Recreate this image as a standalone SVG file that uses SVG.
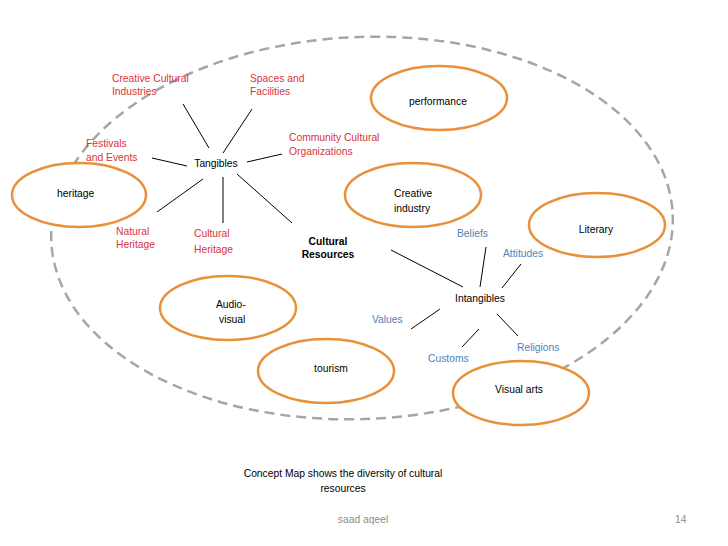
<svg xmlns="http://www.w3.org/2000/svg" width="728" height="546" viewBox="0 0 728 546">
<style>
text{font-family:"Liberation Sans",Arial,sans-serif;font-size:10.3px;fill:#000}
.r{fill:#D9333B}
.b{fill:#4F81BD}
.g{fill:#8C8C8C}
.bold{font-weight:bold}
.m{text-anchor:middle}
.ov{fill:#fff;stroke:#E8913A;stroke-width:2.5}
.ln{stroke:#000;stroke-width:1;fill:none}
</style>
<rect width="728" height="546" fill="#fff"/>
<ellipse cx="362" cy="228" rx="311" ry="191" transform="rotate(-2.5 362 228)" fill="none" stroke="#A6A6A6" stroke-width="2.5" stroke-dasharray="10 6"/>
<g id="connectors">
<line class="ln" x1="183" y1="104" x2="209" y2="148"/>
<line class="ln" x1="252" y1="109" x2="223" y2="153"/>
<line class="ln" x1="282" y1="154" x2="247" y2="162"/>
<line class="ln" x1="152" y1="158" x2="187" y2="166"/>
<line class="ln" x1="203" y1="179" x2="157" y2="212"/>
<line class="ln" x1="223" y1="177" x2="223" y2="223"/>
<line class="ln" x1="237" y1="174" x2="292" y2="223"/>
<line class="ln" x1="391" y1="250" x2="463" y2="287"/>
<line class="ln" x1="486" y1="247" x2="480" y2="287"/>
<line class="ln" x1="521" y1="264" x2="502" y2="288"/>
<line class="ln" x1="440" y1="309" x2="411" y2="329"/>
<line class="ln" x1="479" y1="329" x2="462" y2="347"/>
<line class="ln" x1="497" y1="314" x2="518" y2="336"/>
</g>
<g id="performance"><ellipse class="ov" cx="439" cy="98" rx="68" ry="32"/><text class="m" x="438" y="105">performance</text></g>
<g id="creative-industry"><ellipse class="ov" cx="413" cy="195" rx="68" ry="32"/><text x="394" y="197">Creative</text><text x="394" y="212">industry</text></g>
<g id="literary"><ellipse class="ov" cx="597" cy="225" rx="68" ry="32"/><text class="m" x="596" y="233">Literary</text></g>
<g id="heritage"><ellipse class="ov" cx="79" cy="195" rx="67" ry="32"/><text x="57" y="197">heritage</text></g>
<g id="audio-visual"><ellipse class="ov" cx="228" cy="308" rx="68" ry="32"/><text x="216" y="308">Audio-</text><text x="219" y="323">visual</text></g>
<g id="tourism"><ellipse class="ov" cx="326" cy="371" rx="68" ry="32"/><text class="m" x="331" y="372">tourism</text></g>
<g id="visual-arts"><ellipse class="ov" cx="521" cy="393" rx="68" ry="32"/><text class="m" x="519" y="393">Visual arts</text></g>
<g id="tangibles"><text class="m" x="216" y="167">Tangibles</text></g>
<g id="cultural-resources"><text class="m bold" x="328" y="245">Cultural</text><text class="m bold" x="328" y="258">Resources</text></g>
<g id="intangibles"><text class="m" x="480" y="302">Intangibles</text></g>
<g id="creative-cultural-industries"><text class="r" x="112" y="82">Creative Cultural</text><text class="r" x="112" y="95">Industries</text></g>
<g id="spaces-facilities"><text class="r" x="250" y="82">Spaces and</text><text class="r" x="250" y="95">Facilities</text></g>
<g id="community-cultural-organizations"><text class="r" x="289" y="141">Community Cultural</text><text class="r" x="289" y="155">Organizations</text></g>
<g id="festivals-events"><text class="r" x="86" y="147">Festivals</text><text class="r" x="86" y="161">and Events</text></g>
<g id="natural-heritage"><text class="r" x="116" y="235">Natural</text><text class="r" x="116" y="248">Heritage</text></g>
<g id="cultural-heritage"><text class="r" x="194" y="237">Cultural</text><text class="r" x="194" y="253">Heritage</text></g>
<g id="beliefs"><text class="b" x="457" y="237">Beliefs</text></g>
<g id="attitudes"><text class="b" x="503" y="257">Attitudes</text></g>
<g id="values"><text class="b" x="372" y="323">Values</text></g>
<g id="customs"><text class="b" x="428" y="362">Customs</text></g>
<g id="religions"><text class="b" x="517" y="351">Religions</text></g>
<text class="m" x="343" y="477">Concept Map shows the diversity of cultural</text>
<text class="m" x="343" y="492">resources</text>
<text class="m g" x="363" y="523">saad aqeel</text>
<text class="g" x="675" y="523">14</text>
</svg>
